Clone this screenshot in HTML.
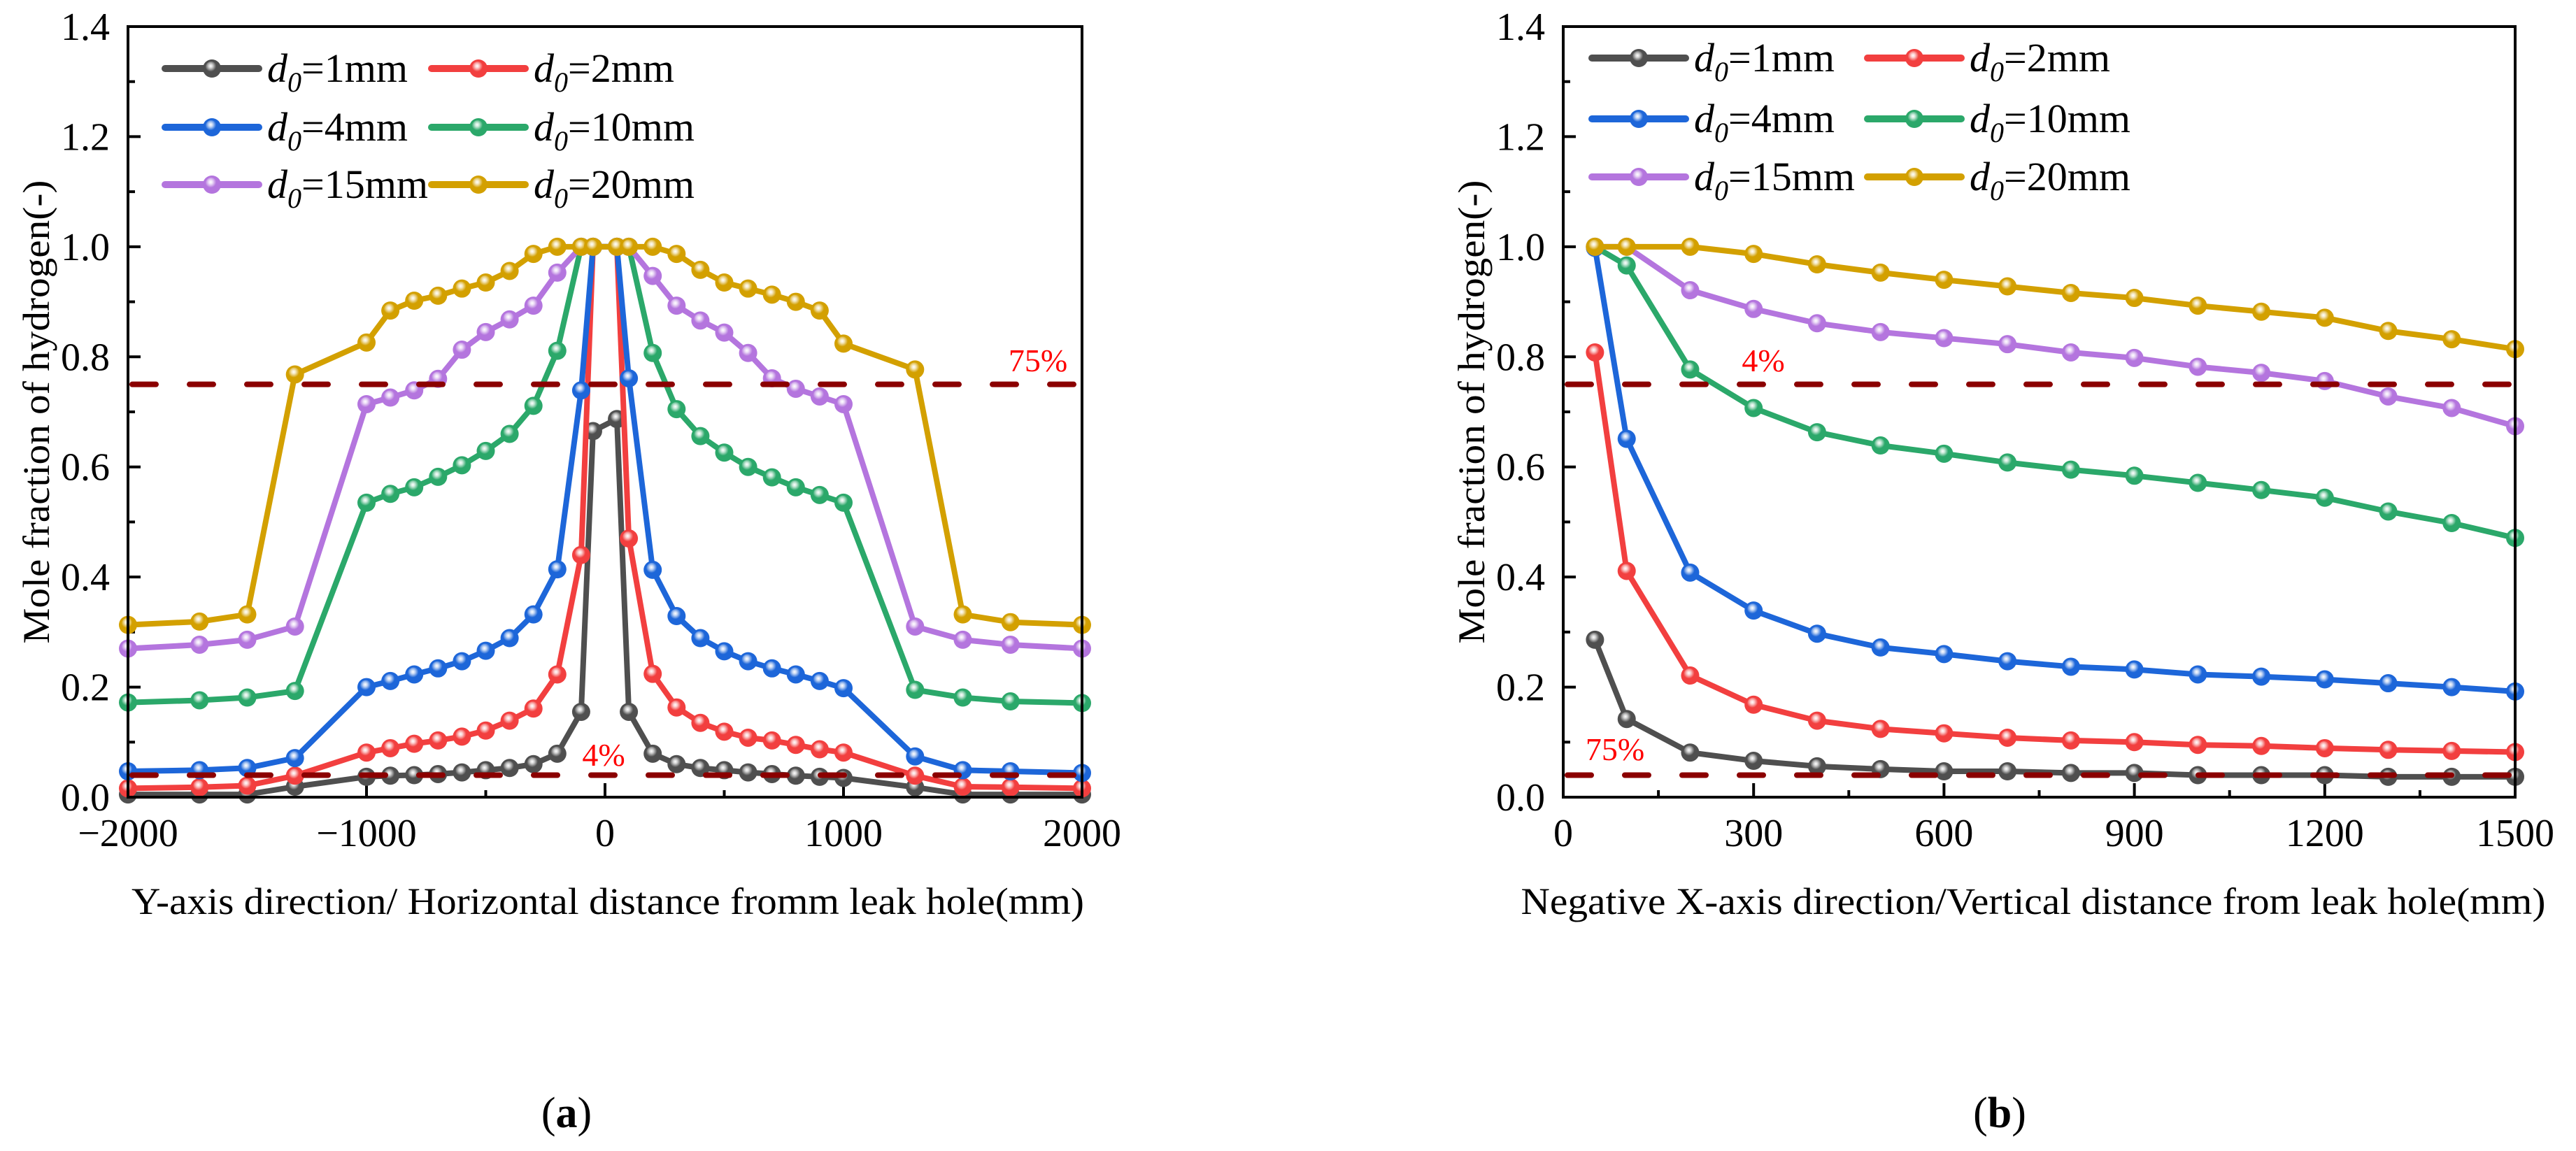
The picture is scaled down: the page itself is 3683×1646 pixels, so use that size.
<!DOCTYPE html>
<html><head><meta charset="utf-8">
<style>
html,body{margin:0;padding:0;background:#fff;}
svg, svg text{font-family:"Liberation Serif","Times New Roman",serif;}
svg{display:block;}
</style></head>
<body>
<svg id="fig" width="3683" height="1646" viewBox="0 0 3683 1646" xmlns="http://www.w3.org/2000/svg" font-family="Liberation Serif, serif">
<defs>
<radialGradient id="hl" cx="0.45" cy="0.4" r="0.5">
<stop offset="0" stop-color="#fff" stop-opacity="1"/>
<stop offset="0.35" stop-color="#fff" stop-opacity="0.75"/>
<stop offset="1" stop-color="#fff" stop-opacity="0"/>
</radialGradient>
</defs>
<g id="chartA" font-family="Liberation Serif, serif"></g>
<g id="chartB" font-family="Liberation Serif, serif"></g>
<text x="810" y="1612" font-size="62" font-family="Liberation Serif, serif" text-anchor="middle">(<tspan font-weight="bold">a</tspan>)</text>
<text x="2859" y="1612" font-size="62" font-family="Liberation Serif, serif" text-anchor="middle">(<tspan font-weight="bold">b</tspan>)</text>
</svg>
<script>
// ---- data chart (a) ----
const xA = [-2000,-1700,-1500,-1300,-1000,-900,-800,-700,-600,-500,-400,-300,-200,-100,-50,50,100,200,300,400,500,600,700,800,900,1000,1300,1500,1700,2000];
const a_d1  = [0.005,0.005,0.005,0.019,0.037,0.039,0.040,0.042,0.045,0.049,0.053,0.060,0.079,0.155,0.665,0.687,0.155,0.079,0.060,0.053,0.049,0.045,0.042,0.039,0.037,0.035,0.018,0.005,0.005,0.005];
const a_d2  = [0.016,0.018,0.021,0.039,0.081,0.089,0.097,0.103,0.110,0.121,0.139,0.161,0.223,0.440,1.0,1.0,0.470,0.224,0.163,0.135,0.119,0.108,0.103,0.095,0.087,0.081,0.039,0.019,0.018,0.016];
const a_d4  = [0.047,0.049,0.053,0.071,0.200,0.211,0.223,0.234,0.247,0.266,0.289,0.332,0.414,0.739,1.0,1.0,0.761,0.413,0.329,0.289,0.265,0.247,0.234,0.223,0.211,0.198,0.074,0.049,0.047,0.044];
const a_d10 = [0.172,0.176,0.181,0.193,0.535,0.551,0.563,0.582,0.603,0.629,0.660,0.711,0.811,1.0,1.0,1.0,1.0,0.807,0.705,0.656,0.626,0.600,0.581,0.563,0.549,0.535,0.195,0.181,0.174,0.171];
const a_d15 = [0.270,0.277,0.286,0.310,0.714,0.726,0.739,0.760,0.813,0.845,0.868,0.893,0.953,1.0,1.0,1.0,1.0,0.947,0.893,0.866,0.844,0.807,0.761,0.742,0.728,0.714,0.310,0.286,0.277,0.270];
const a_d20 = [0.313,0.319,0.332,0.768,0.826,0.884,0.902,0.911,0.924,0.935,0.956,0.987,1.0,1.0,1.0,1.0,1.0,1.0,0.987,0.958,0.935,0.924,0.913,0.900,0.884,0.824,0.777,0.332,0.318,0.313];
const xTicksA = [-2000,-1000,0,1000,2000];
const xTickLabelsA = ["\u22122000","\u22121000","0","1000","2000"];
// ---- data chart (b) ----
const xB = [50,100,200,300,400,500,600,700,800,900,1000,1100,1200,1300,1400,1500];
const b_d1  = [0.286,0.142,0.081,0.066,0.056,0.051,0.047,0.047,0.044,0.044,0.040,0.040,0.040,0.037,0.037,0.037];
const b_d2  = [0.808,0.411,0.221,0.168,0.139,0.124,0.116,0.108,0.103,0.100,0.095,0.093,0.089,0.086,0.084,0.082];
const b_d4  = [0.998,0.651,0.408,0.339,0.297,0.272,0.260,0.247,0.237,0.232,0.223,0.219,0.214,0.207,0.200,0.192];
const b_d10 = [1.0,0.966,0.777,0.707,0.663,0.639,0.624,0.608,0.595,0.584,0.571,0.558,0.544,0.519,0.498,0.471];
const b_d15 = [1.0,1.0,0.921,0.887,0.861,0.845,0.834,0.823,0.808,0.798,0.782,0.771,0.756,0.728,0.707,0.674];
const b_d20 = [1.0,1.0,1.0,0.987,0.968,0.953,0.940,0.928,0.916,0.907,0.893,0.882,0.871,0.847,0.832,0.814];
const xTicksB = [0,300,600,900,1200,1500];
const xTickLabelsB = ["0","300","600","900","1200","1500"];
const yTicks = [0,0.2,0.4,0.6,0.8,1.0,1.2,1.4];
const yTickLabels = ["0.0","0.2","0.4","0.6","0.8","1.0","1.2","1.4"];
const seriesNames = ["1mm","2mm","4mm","10mm","15mm","20mm"];
const thresholds = [0.75,0.04];

const colors = ["#4f4f4f","#f23f3f","#1d66d9","#2ba86a","#b475de","#d3a000"];
const NS = "http://www.w3.org/2000/svg";
const FF = "Liberation Serif, Times New Roman, serif";
function mk(tag, attrs, parent){const e=document.createElementNS(NS,tag);for(const k in attrs)e.setAttribute(k,attrs[k]);if(tag==='text')e.setAttribute('font-family',FF);if(parent)parent.appendChild(e);return e;}
function tsp(parent, txt, attrs){const t=document.createElementNS(NS,'tspan');for(const k in attrs)t.setAttribute(k,attrs[k]);t.textContent=txt;parent.appendChild(t);return t;}

function drawChart(g, cfg){
  const L=cfg.left,R=cfg.right,T=38,B=1140;
  const sx=v=>L+(v-cfg.xmin)/(cfg.xmax-cfg.xmin)*(R-L);
  const sy=v=>B-(v/1.4)*(B-T);
  for(let i=0;i<yTicks.length;i++){
    const y=sy(yTicks[i]);
    const t=mk('line',{x1:L,x2:L+18,y1:y,y2:y,stroke:'#000','stroke-width':4},g);
    
    
    const lb=mk('text',{x:L-26,y:y+19,'font-size':56,'text-anchor':'end'},g);
    lb.textContent=yTickLabels[i];
    
    
    if(i<yTicks.length-1){
      const ym=sy((yTicks[i]+yTicks[i+1])/2);
      const m=mk('line',{x1:L,x2:L+10,y1:ym,y2:ym,stroke:'#000','stroke-width':4},g);
      
      
    }
  }
  for(let i=0;i<cfg.xt.length;i++){
    const x=sx(cfg.xt[i]);
    const t=mk('line',{x1:x,x2:x,y1:B,y2:B-20,stroke:'#000','stroke-width':4},g);
    
    
    const lb=mk('text',{x:x,y:1210,'font-size':56,'text-anchor':'middle'},g);
    lb.textContent=cfg.xl[i];
    
    
    if(i<cfg.xt.length-1){
      const xm=sx((cfg.xt[i]+cfg.xt[i+1])/2);
      const m=mk('line',{x1:xm,x2:xm,y1:B,y2:B-10,stroke:'#000','stroke-width':4},g);
      
      
    }
  }
  const clip='clip'+cfg.id;
  const cp=mk('clipPath',{id:clip},g); mk('rect',{x:L-16,y:T,width:R-L+32,height:B-T+16},cp);
  const sg=mk('g',{'clip-path':'url(#'+clip+')'},g);
  
  
  cfg.ys.forEach((arr,si)=>{
    const pts=arr.map((v,i)=>sx(cfg.xs[i]).toFixed(1)+','+sy(v).toFixed(1)).join(' ');
    const pl=mk('polyline',{points:pts,fill:'none',stroke:colors[si],'stroke-width':8,'stroke-linejoin':'round'},sg);
    
    
    arr.forEach((v,i)=>{
      const c=mk('circle',{cx:sx(cfg.xs[i]),cy:sy(v),r:13,fill:colors[si]},sg);
      
      
      mk('circle',{cx:sx(cfg.xs[i])-1,cy:sy(v)-2,r:8,fill:'url(#hl)'},sg);
    });
  });
  thresholds.forEach((v,k)=>{
    const y=sy(v);
    const d=mk('line',{x1:L+6,x2:R,y1:y,y2:y,stroke:'#8b0000','stroke-width':8,'stroke-dasharray':'34 48','stroke-linecap':'round'},g);
    
    
  });
  cfg.notes.forEach(n=>{
    const t=mk('text',{x:n[0],y:n[1],'font-size':46,fill:'#ff0000','text-anchor':'middle'},g);
    t.textContent=n[2];
    
    
  });
  const fr=mk('rect',{x:L,y:T,width:R-L,height:B-T,fill:'none',stroke:'#000','stroke-width':4},g);
  
  
  for(let si=0;si<6;si++){
    const row=Math.floor(si/2),col=si%2;
    const y=cfg.leg.rows[row];
    const lx=cfg.leg.cols[col];
    const lg=mk('g',{},g);
    
    
    mk('line',{x1:lx,x2:lx+134,y1:y,y2:y,stroke:colors[si],'stroke-width':10,'stroke-linecap':'round'},lg);
    mk('circle',{cx:lx+67,cy:y,r:13,fill:colors[si]},lg);
    mk('circle',{cx:lx+66,cy:y-2,r:8,fill:'url(#hl)'},lg);
    const t=mk('text',{x:lx+146,y:y+19,'font-size':58},lg);
    tsp(t,'d',{'font-style':'italic'});
    tsp(t,'0',{'font-style':'italic','font-size':40,dy:14});
    tsp(t,'='+seriesNames[si],{dy:-14});
  }
  const xt=mk('text',{x:cfg.xtitle[0],y:1307,'font-size':54,'text-anchor':'middle',textLength:cfg.xtitle[1],lengthAdjust:'spacingAndGlyphs'},g);
  xt.textContent=cfg.xtitleText;
  
  
  const yt=mk('text',{x:0,y:0,'font-size':54,'text-anchor':'middle',transform:'translate('+(cfg.ytitleX)+',589) rotate(-90)',textLength:663,lengthAdjust:'spacingAndGlyphs'},g);
  yt.textContent='Mole fraction of hydrogen(-)';
  
  
}

drawChart(document.getElementById('chartA'),{id:'A',left:183,right:1547,xmin:-2000,xmax:2000,xs:xA,
  ys:[a_d1,a_d2,a_d4,a_d10,a_d15,a_d20],xt:xTicksA,xl:xTickLabelsA,
  notes:[[1484,531,'75%'],[863,1095,'4%']],
  leg:{rows:[98,182,264],cols:[236,617]},
  xtitle:[869,1362],xtitleText:'Y-axis direction/ Horizontal distance fromm leak hole(mm)',ytitleX:70});
drawChart(document.getElementById('chartB'),{id:'B',left:2235,right:3596,xmin:0,xmax:1500,xs:xB,
  ys:[b_d1,b_d2,b_d4,b_d10,b_d15,b_d20],xt:xTicksB,xl:xTickLabelsB,
  notes:[[2521,531,'4%'],[2309,1087,'75%']],
  leg:{rows:[83,170,253],cols:[2276,2670]},
  xtitle:[2907,1465],xtitleText:'Negative X-axis direction/Vertical distance from leak hole(mm)',ytitleX:2122});
</script>
</body></html>
